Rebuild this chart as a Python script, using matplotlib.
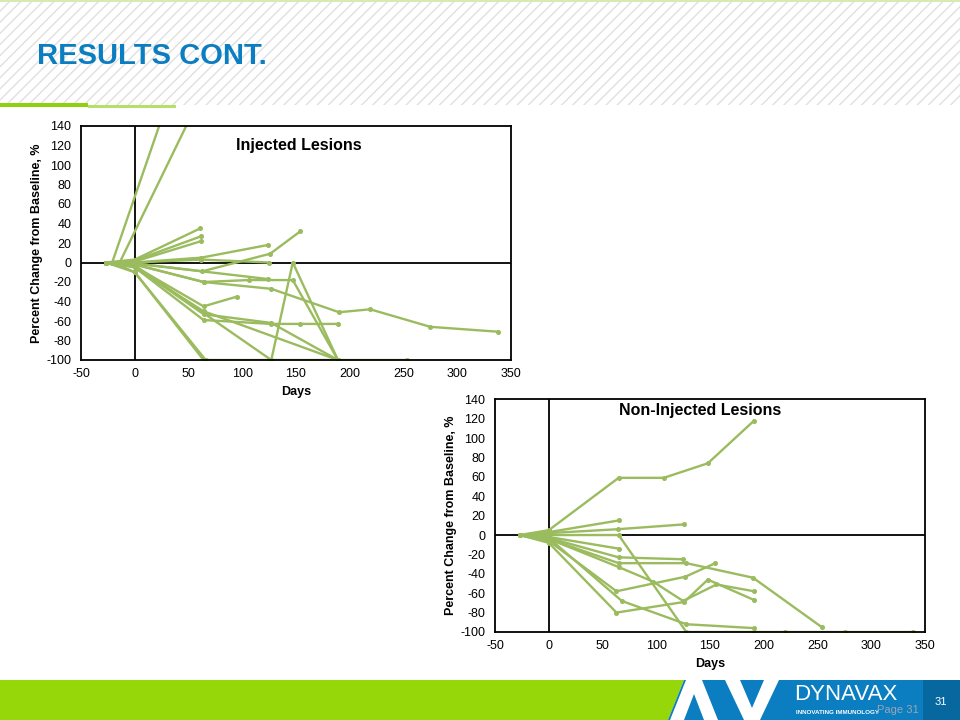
import matplotlib
matplotlib.use("Agg")
import matplotlib.pyplot as plt
from matplotlib.patches import Rectangle, Polygon

plt.rcParams['font.family'] = ['Liberation Sans', 'DejaVu Sans']
plt.rcParams['axes.unicode_minus'] = False

# injected lesions, one list per lesion (days, % change)
inj_days = [
    [-21, 62],
    [-14, 62],
    [-27, 0, 61],
    [-20, 0, 62],
    [-27, 0, 62],
    [-20, 0, 62, 124],
    [-27, 0, 63, 126, 154],
    [-20, 0, 62, 125],
    [-27, 0, 64, 106, 147, 189],
    [-20, 0, 124],
    [-27, 0, 64, 127, 190, 219, 275, 338],
    [-20, 0, 64, 95],
    [-27, 0, 64, 127, 154, 189],
    [-20, 0, 64, 189],
    [-20, 0, 64, 127, 189],
    [-27, 0, 127, 147, 189],
    [-20, 0, 64],
    [-27, 0, 66, 127, 189, 253],
]
inj_vals = [
    [0, 266],
    [0, 172],
    [0, 3, 35],
    [0, 2, 27],
    [0, 1, 22],
    [0, 0, 5, 18],
    [0, -1, -9, 9, 32],
    [0, 0, 3, 0],
    [0, -2, -20, -18, -18, -100],
    [0, -1, -17],
    [0, -2, -20, -27, -51, -48, -66, -71],
    [0, -4, -45, -35],
    [0, -5, -59, -63, -63, -63],
    [0, -5, -50, -100],
    [0, -4, -53, -62, -100],
    [0, -3, -100, 0, -100],
    [0, -10, -100],
    [0, -10, -100, -100, -100, -100],
]

# non-injected lesions
non_days = [
    [-27, 0, 65, 107, 148, 191],
    [-21, 0, 65],
    [-21, 0, 64, 126],
    [-27, 0, 65, 128, 191, 220, 276, 339],
    [-21, 0, 65],
    [-27, 0, 65, 125],
    [-21, 0, 65, 128, 190, 254],
    [-27, 0, 65, 97, 125, 156, 191],
    [-21, 0, 63, 127, 155],
    [-27, 0, 63, 126, 148, 191],
    [-21, 0, 68, 128, 191],
]
non_vals = [
    [0, 5, 59, 59, 74, 118],
    [0, 3, 15],
    [0, 2, 6, 11],
    [0, 0, 0, -100, -100, -100, -100, -100],
    [0, -2, -14],
    [0, -3, -23, -25],
    [0, -4, -29, -29, -44, -95],
    [0, -4, -33, -48, -68, -51, -58],
    [0, -6, -58, -43, -29],
    [0, -8, -80, -69, -46, -67],
    [0, -3, -68, -92, -96],
]

x_ticks = [-50, 0, 50, 100, 150, 200, 250, 300, 350]
y_ticks = [-100, -80, -60, -40, -20, 0, 20, 40, 60, 80, 100, 120, 140]

line_color = '#9bbb5f'

fig = plt.figure(figsize=(9.6, 7.2), dpi=100)

# slide background in pixel coordinates
bg = fig.add_axes([0, 0, 1, 1])
bg.set_xlim(0, 960)
bg.set_ylim(720, 0)
bg.axis('off')
bg.add_patch(Rectangle((0, 0), 960, 105, facecolor='white', edgecolor='#e0e0e0',
                       hatch='///', linewidth=0))
bg.add_patch(Rectangle((0, 0), 960, 1.5, facecolor='#d5ebb0', linewidth=0))
bg.add_patch(Rectangle((0, 103), 88, 4, facecolor='#8fd10f', linewidth=0))
bg.add_patch(Rectangle((88, 105), 88, 2.5, facecolor='#b6df6a', linewidth=0))
bg.text(37, 56, 'RESULTS CONT.', fontsize=21, fontweight='bold', color='#0b7dc1',
        ha='left', va='center')

# footer
bg.add_patch(Polygon([(0, 680), (684, 680), (668, 720), (0, 720)], facecolor='#96d70a', linewidth=0))
bg.add_patch(Polygon([(684, 680), (923, 680), (923, 720), (668, 720)], facecolor='#0b7dc1', linewidth=0))
bg.add_patch(Rectangle((923, 680), 37, 40, facecolor='#07679f', linewidth=0))
bg.add_patch(Polygon([(670, 720), (686, 680), (702, 680), (718, 720), (704, 720),
                      (694, 694), (684, 720)], facecolor='white', linewidth=0))
bg.add_patch(Polygon([(725, 680), (740, 680), (752, 708), (764, 680), (779, 680),
                      (760, 720), (744, 720)], facecolor='white', linewidth=0))
bg.text(846, 695, 'DYNAVAX', fontsize=16, color='white', ha='center', va='center')
bg.text(838, 712, 'INNOVATING IMMUNOLOGY', fontsize=4.5, fontweight='bold', color='white',
        ha='center', va='center')
bg.text(898, 710, 'Page 31', fontsize=8, color='#9aa6b0', ha='center', va='center')
bg.text(941, 702, '31', fontsize=8, color='white', ha='center', va='center')


def draw_panel(rect, days, vals, title, title_xy):
    ax = fig.add_axes(rect)
    ax.axhline(0, color='black', lw=1.3, zorder=1)
    ax.axvline(0, color='black', lw=1.3, zorder=1)
    for d, v in zip(days, vals):
        ax.plot(d, v, color=line_color, lw=1.7, marker='o', markersize=2.6, zorder=2)
    ax.set_xlim(-50, 350)
    ax.set_ylim(-100, 140)
    ax.set_xticks(x_ticks)
    ax.set_yticks(y_ticks)
    ax.tick_params(length=0, labelsize=9)
    ax.tick_params(axis='y', pad=7)
    ax.tick_params(axis='x', pad=6)
    for s in ax.spines.values():
        s.set_linewidth(1.3)
    ax.set_xlabel('Days', fontsize=9, fontweight='bold')
    ax.set_ylabel('Percent Change from Baseline, %', fontsize=9, fontweight='bold')
    ax.xaxis.set_label_coords(0.5, -0.11)
    ax.yaxis.set_label_coords(-0.088, 0.5)
    ax.text(title_xy[0], title_xy[1], title, transform=ax.transAxes, fontsize=11.5,
            fontweight='bold', ha='center', va='center')
    return ax


draw_panel([81 / 960, 0.5, 430 / 960, 234 / 720], inj_days, inj_vals,
           'Injected Lesions', (0.507, 0.915))
draw_panel([495 / 960, 88 / 720, 430 / 960, 232.7 / 720], non_days, non_vals,
           'Non-Injected Lesions', (0.477, 0.951))

fig.savefig('out.png', dpi=100)
